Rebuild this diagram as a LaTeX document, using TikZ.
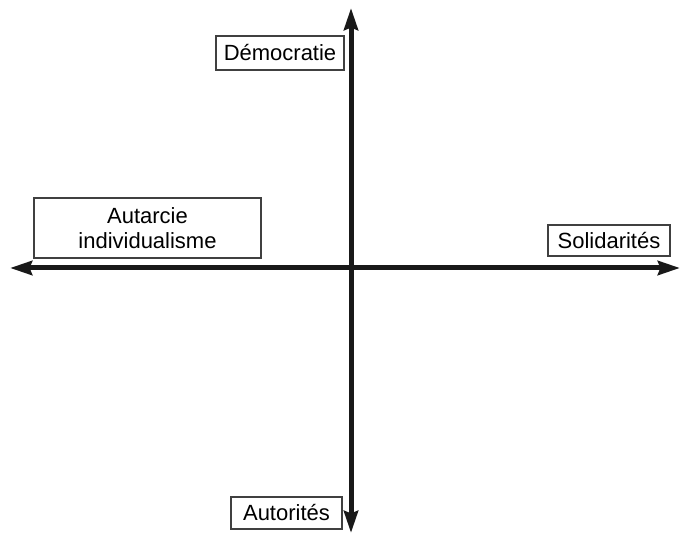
\documentclass[tikz,border=0pt]{standalone}
\usepackage{fontspec}
\setmainfont{Liberation Sans}
\usetikzlibrary{arrows.meta}
\begin{document}
\begin{tikzpicture}[x=1pt,y=-1pt,
  lbl/.style={draw=black!75, line width=1.4pt, inner sep=0pt, align=center,
    font=\fontsize{22}{25}\selectfont},
  axis/.style={line width=5pt, black!90, {Stealth[length=22pt,width=14pt,inset=2.5pt]}-{Stealth[length=22pt,width=14pt,inset=2.5pt]}}]
\useasboundingbox (0,0) rectangle (681,534);
\coordinate (top) at (351,8);
\coordinate (bot) at (351,533);
\coordinate (left) at (10,268);
\coordinate (right) at (680,268);
\draw[axis] (left) -- (right);
\draw[axis] (bot) -- (top);
\node[lbl, minimum width=128pt, minimum height=34pt] (dem) at (280,53) {Démocratie};
\node[lbl, minimum width=227pt, minimum height=60pt] (aut) at (147.5,228) {Autarcie\\individualisme};
\node[lbl, minimum width=122pt, minimum height=31pt] (sol) at (609,240.5) {Solidarités};
\node[lbl, minimum width=111pt, minimum height=32pt] (ator) at (286.5,513) {Autorités};
\end{tikzpicture}
\end{document}
